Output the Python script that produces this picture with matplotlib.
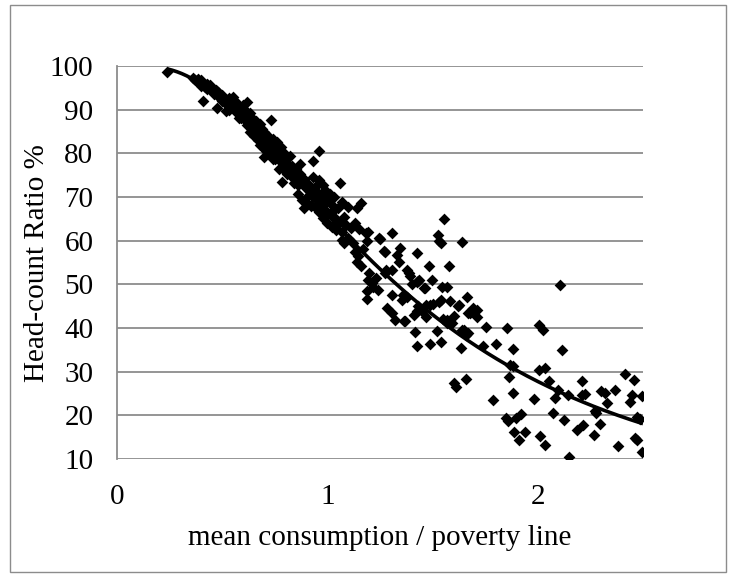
import numpy as np
import matplotlib
matplotlib.use("Agg")
import matplotlib.pyplot as plt
from matplotlib.patches import Rectangle
from statistics import NormalDist

# mean consumption relative to the poverty line, and head-count ratio (%)
ratio_dense = [
    0.24, 0.36, 0.37, 0.38, 0.39, 0.40, 0.41, 0.41, 0.42, 0.43, 0.44, 0.45, 0.46, 0.475, 0.47,
    0.48, 0.49, 0.50, 0.51, 0.52, 0.53, 0.54, 0.55, 0.56, 0.56, 0.57, 0.58, 0.58, 0.59, 0.60,
    0.60, 0.61, 0.61, 0.62, 0.62, 0.62, 0.63, 0.63, 0.64, 0.64, 0.65, 0.65, 0.66, 0.66, 0.67,
    0.67, 0.68, 0.68, 0.69, 0.69, 0.70, 0.70, 0.71, 0.71, 0.72, 0.73, 0.73, 0.73, 0.74, 0.75,
    0.75, 0.76, 0.76, 0.77, 0.77, 0.78, 0.78, 0.783, 0.79, 0.79, 0.80, 0.80, 0.81, 0.81, 0.82,
    0.82, 0.83, 0.83, 0.84, 0.84, 0.85, 0.85, 0.86, 0.87, 0.87, 0.88, 0.88, 0.89, 0.89, 0.90,
    0.90, 0.91, 0.91, 0.92, 0.92, 0.93, 0.93, 0.93, 0.94, 0.94, 0.95, 0.95, 0.96, 0.96, 0.96,
    0.97, 0.97, 0.98, 0.98, 0.99, 0.99, 1.00, 1.00, 1.01, 1.01, 1.02, 1.02, 1.03, 1.03, 1.04,
    1.04, 1.06, 1.05, 1.06, 1.07, 1.07, 1.07, 1.08, 1.08, 1.09, 1.10, 1.10, 1.11, 1.12, 1.13,
    1.14, 1.16,
    0.385, 0.40, 0.43, 0.45, 0.48, 0.50, 0.53, 0.55, 0.57, 0.59, 0.61, 0.64, 0.68, 0.72,
    0.52, 0.58, 0.63, 0.66, 0.70, 0.74, 0.86, 0.98,
]
hcr_dense = [
    98.6, 97.3, 96.8, 96.5, 96.0, 95.5, 92.0, 96.2, 95.3, 94.8, 95.6, 94.2, 93.5, 90.3, 94.5,
    93.2, 92.6, 93.4, 92.0, 91.4, 90.0, 91.8, 90.5, 89.8, 92.0, 91.2, 89.0, 90.3, 88.2, 91.0,
    89.5, 87.6, 90.0, 88.6, 86.5, 91.8, 89.2, 87.2, 88.0, 85.5, 86.8, 84.0, 87.5, 85.2, 83.0,
    86.2, 84.5, 82.0, 85.5, 83.6, 81.2, 84.8, 82.8, 80.5, 84.0, 87.6, 82.0, 79.8, 83.2, 81.0,
    78.8, 82.5, 80.0, 79.0, 76.5, 81.5, 78.0, 73.5, 77.2, 80.2, 76.0, 78.8, 75.2, 77.8, 79.5,
    76.8, 74.5, 77.0, 73.2, 75.8, 76.5, 74.0, 72.8, 75.2, 77.5, 69.3, 73.5, 67.5, 74.2, 72.0,
    68.8, 70.2, 73.0, 71.5, 68.0, 78.2, 74.5, 70.0, 72.2, 67.6, 69.5, 71.2, 80.5, 73.8, 66.5,
    70.5, 68.2, 69.8, 65.2, 71.6, 67.0, 69.0, 64.0, 70.8, 66.2, 68.2, 63.2, 67.0, 70.0, 65.0,
    62.5, 73.2, 67.5, 64.2, 60.2, 68.8, 62.0, 65.5, 59.4, 63.5, 67.8, 60.5, 62.8, 59.5, 64.0,
    67.5, 68.6,
    97.0, 96.8, 95.8, 95.0, 94.0, 92.0, 92.6, 92.8, 89.8, 90.6, 88.8, 86.6, 86.8, 81.8,
    89.6, 88.0, 85.0, 83.8, 79.2, 78.6, 70.6, 72.8,
]
ratio_spread = [
    1.139, 1.146, 1.162, 1.13, 1.17, 1.194, 1.19, 1.151, 1.182, 1.194, 1.218, 1.187, 1.242, 1.187,
    1.20, 1.21, 1.23, 1.25, 1.244, 1.267, 1.274, 1.274, 1.28, 1.306, 1.306, 1.33, 1.338, 1.346,
    1.282, 1.306, 1.32, 1.362, 1.306, 1.36, 1.354, 1.378, 1.394, 1.39, 1.426, 1.434, 1.43, 1.463,
    1.497, 1.482, 1.577, 1.553, 1.527, 1.54, 1.53, 1.638, 1.545, 1.57, 1.45, 1.47, 1.43, 1.418,
    1.52, 1.426, 1.49, 1.538, 1.538, 1.584, 1.665, 1.624, 1.67, 1.694, 1.71, 1.68, 1.713, 1.647,
    1.67, 1.633, 1.57, 1.593, 1.60, 1.61, 1.66, 1.753, 1.852, 2.005, 2.024, 1.88, 2.116, 1.80,
    1.74, 2.107, 1.866, 1.88, 1.861, 2.008, 2.036, 2.055, 1.785, 1.88, 1.98, 2.08, 2.096, 2.143,
    2.212, 2.208, 2.223, 2.30, 2.318, 2.327, 2.367, 2.415, 2.455, 2.447, 2.44, 2.494, 2.271, 2.47,
    2.486, 1.848, 1.856, 1.896, 1.92, 1.889, 1.912, 1.941, 2.072, 2.123, 2.011, 2.032, 2.184,
    2.215, 2.266, 2.295, 2.383, 2.463, 2.47, 2.494, 2.148, 1.40, 1.41, 1.45, 1.47, 1.50, 1.53,
    1.55, 1.57, 1.60, 1.62, 1.64, 1.66, 1.378, 1.49, 1.426, 1.37, 1.458, 1.426, 2.275,
]
hcr_spread = [
    55.2, 56.4, 54.1, 57.5, 58.1, 61.9, 60.0, 62.7, 61.8, 51.0, 49.5, 48.4, 48.7, 46.6,
    52.5, 50.2, 51.5, 60.3, 60.6, 57.7, 57.5, 52.6, 53.3, 53.3, 61.7, 56.7, 55.2, 58.3,
    44.6, 43.5, 41.9, 41.5, 47.6, 47.5, 46.5, 53.3, 51.8, 52.6, 57.2, 51.0, 50.8, 49.1,
    51.0, 54.2, 54.2, 65.0, 61.3, 59.5, 60.0, 59.8, 49.5, 49.4, 43.8, 45.3, 45.0, 39.0,
    39.2, 35.9, 36.4, 36.9, 46.5, 46.1, 47.2, 45.3, 43.4, 44.5, 42.6, 43.5, 44.2, 39.6,
    38.8, 35.4, 41.9, 41.2, 27.5, 26.5, 28.3, 40.2, 40.0, 40.7, 39.6, 35.2, 35.0, 36.3,
    35.9, 49.9, 31.6, 31.4, 28.8, 30.4, 30.8, 27.9, 23.4, 25.1, 23.7, 23.9, 25.9, 24.7,
    27.8, 24.7, 24.9, 25.5, 25.1, 22.8, 25.8, 29.5, 28.1, 24.7, 23.0, 24.5, 20.9, 19.7,
    19.2, 19.5, 18.6, 19.5, 20.4, 16.2, 14.3, 16.2, 20.5, 19.0, 15.3, 13.3, 16.6,
    17.9, 15.5, 18.0, 13.0, 14.8, 14.4, 11.7, 10.4, 50.0, 43.0, 44.0, 42.5, 45.5, 46.0,
    42.0, 41.2, 42.8, 45.0, 39.5, 38.5, 47.2, 45.3, 50.6, 41.5, 49.1, 43.8, 20.5,
]

# probit trend line: HCR = Phi(a + b * ln(ratio))
trend_a = 0.41
trend_b = -1.443

x_ticks = [0, 1, 2]
y_ticks = [10, 20, 30, 40, 50, 60, 70, 80, 90, 100]

ratio = np.array(ratio_dense + ratio_spread)
hcr = np.array(hcr_dense + hcr_spread)
nd = NormalDist()

plt.rcParams["font.family"] = ["Liberation Serif", "DejaVu Serif"]
W, H = 729, 575
fig = plt.figure(figsize=(W / 100, H / 100), dpi=100)
fig.patch.set_facecolor("white")

# chart-area frame
fig.patches.append(Rectangle((10 / W, 3 / H), 716 / W, 567 / H,
                             transform=fig.transFigure, fill=False,
                             edgecolor="#8c8c8c", linewidth=1.0))

ax_l, ax_r, ax_t, ax_b = 117, 643, 66, 459
ax = fig.add_axes([ax_l / W, (H - ax_b) / H, (ax_r - ax_l) / W, (ax_b - ax_t) / H])
ax.set_xlim(0, 2.5)
ax.set_ylim(10, 100)
ax.set_xticks(x_ticks)
ax.set_yticks(y_ticks)
ax.tick_params(axis="both", length=0, labelsize=21, colors="black")
ax.tick_params(axis="x", pad=18)
ax.tick_params(axis="y", pad=17)

for v in y_ticks:
    ax.axhline(v, color="#8c8c8c", linewidth=1.3, zorder=1)
for side in ("top", "right", "bottom"):
    ax.spines[side].set_visible(False)
ax.spines["left"].set_color("#8c8c8c")
ax.spines["left"].set_linewidth(1.3)

ax.scatter(ratio, hcr, marker="D", s=36, color="black", linewidths=0, zorder=3)

xs = np.linspace(ratio.min(), 2.5, 300)
ys = np.array([100.0 * nd.cdf(trend_a + trend_b * np.log(v)) for v in xs])
ax.plot(xs, ys, color="black", linewidth=2.6, zorder=4, solid_capstyle="butt")

fig.text((ax_l + ax_r) / 2 / W, 1 - 538 / H, "mean consumption / poverty line",
         fontsize=21, ha="center", va="center")
fig.text(37 / W, 1 - 263 / H, "Head-count Ratio %", fontsize=21,
         rotation=90, ha="center", va="center")

fig.savefig("out.png", dpi=100, facecolor="white")
